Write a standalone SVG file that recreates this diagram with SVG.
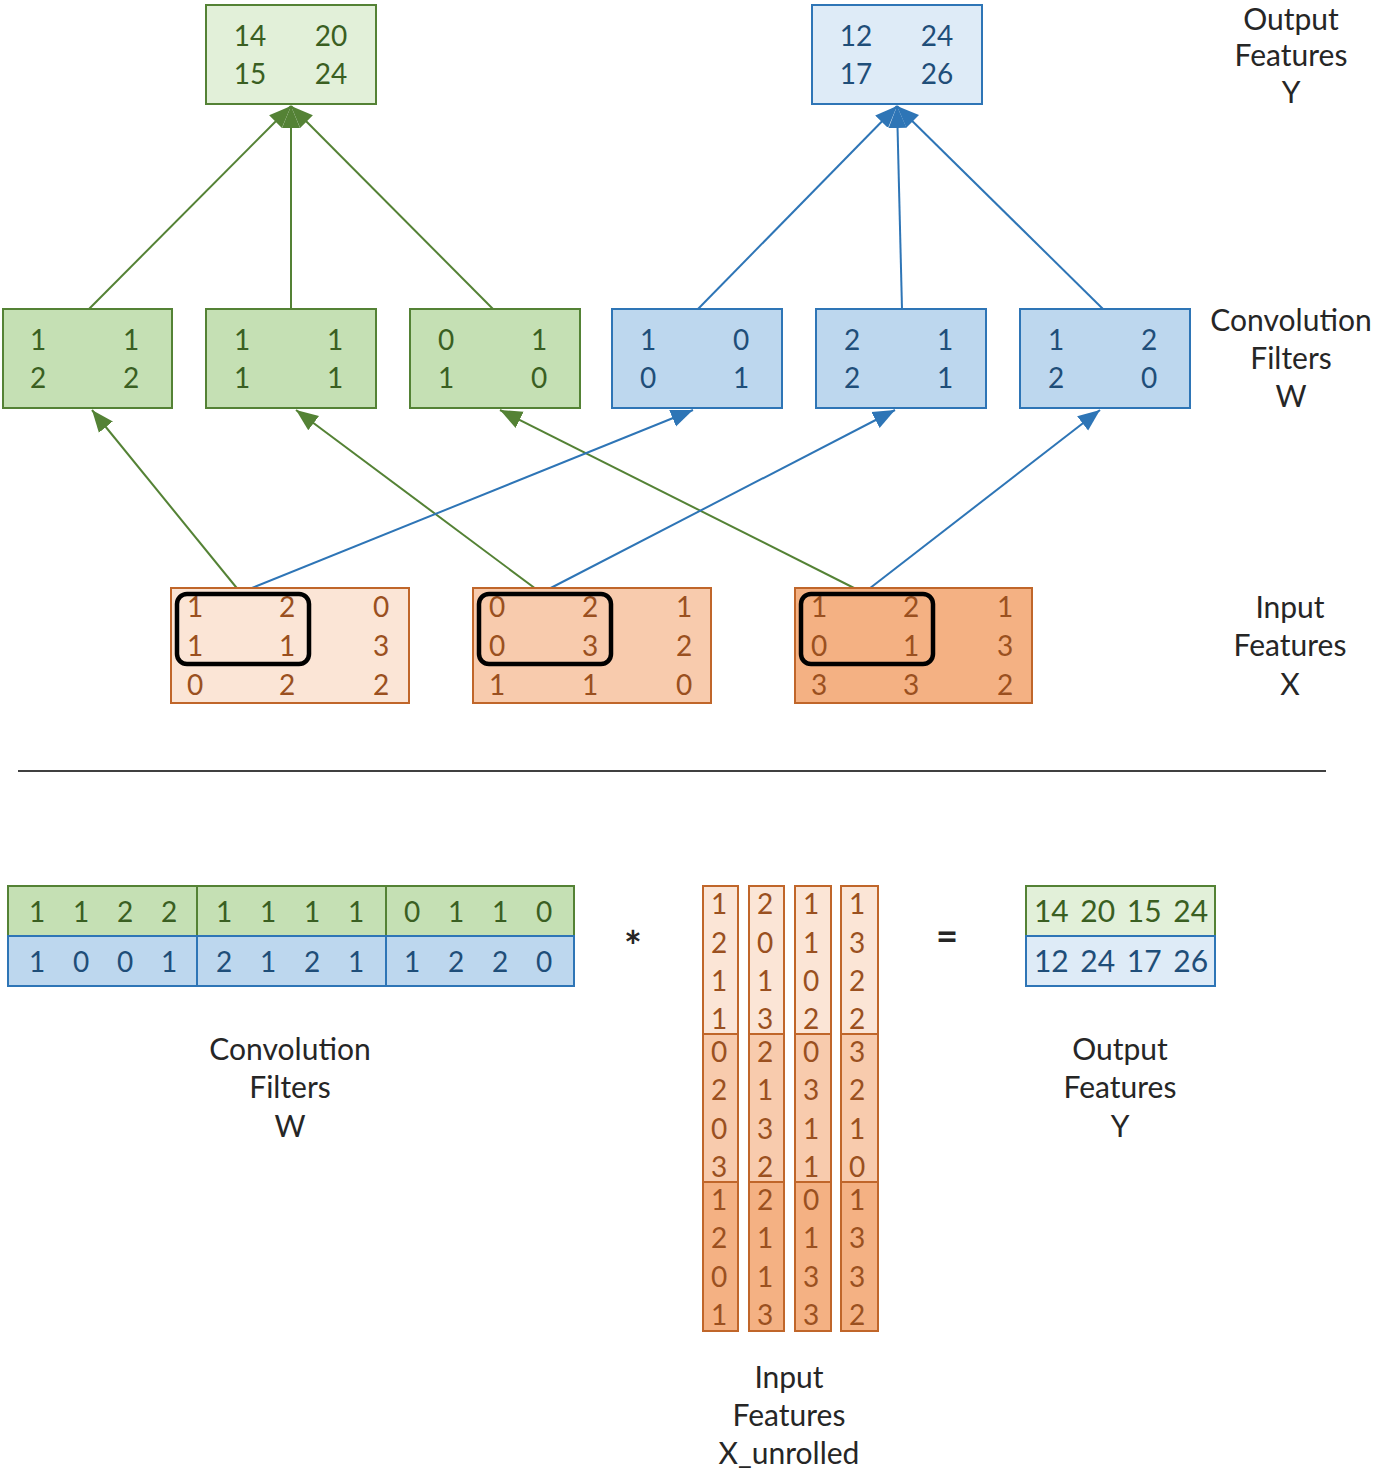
<svg xmlns="http://www.w3.org/2000/svg" width="1376" height="1474" viewBox="0 0 1376 1474">
<style>
text{font-family:Lato,"Open Sans","Liberation Sans",sans-serif;font-size:28px;text-anchor:middle}
.lbl{fill:#262626;font-size:30px}
.gt{fill:#3A5F22}
.bt{fill:#1F4E79}
.ot{fill:#9A5020}
.g1{fill:#C5E0B4;stroke:#548235;stroke-width:2}
.g0{fill:#E2F0D9;stroke:#548235;stroke-width:2}
.b1{fill:#BDD7EE;stroke:#2E75B6;stroke-width:2}
.b0{fill:#DEEBF7;stroke:#2E75B6;stroke-width:2}
.o1{fill:#FBE5D6;stroke:#C0662A;stroke-width:2}
.o2{fill:#F8CBAD;stroke:#C0662A;stroke-width:2}
.o3{fill:#F4B183;stroke:#C0662A;stroke-width:2}
.win{fill:none;stroke:#000;stroke-width:4.5}
.gl{stroke:#548235;stroke-width:2;fill:none;marker-end:url(#ag)}
.bl{stroke:#2E75B6;stroke-width:2;fill:none;marker-end:url(#ab)}
.op{fill:#262626;font-weight:bold}
.yv{font-size:30px;word-spacing:4px}
</style>
<defs>
<marker id="ag" markerUnits="userSpaceOnUse" markerWidth="24" markerHeight="20" viewBox="0 0 24 20" refX="22" refY="10" orient="auto"><path d="M0,1 L22,10 L0,19 Z" fill="#548235"/></marker>
<marker id="ab" markerUnits="userSpaceOnUse" markerWidth="24" markerHeight="20" viewBox="0 0 24 20" refX="22" refY="10" orient="auto"><path d="M0,1 L22,10 L0,19 Z" fill="#2E75B6"/></marker>
</defs>
<rect width="1376" height="1474" fill="#fff"/>

<g id="connectors">
<line class="gl" x1="89" y1="309" x2="291" y2="106"/>
<line class="gl" x1="291" y1="309" x2="291" y2="106"/>
<line class="gl" x1="493" y1="309" x2="291" y2="106"/>
<line class="bl" x1="698" y1="309" x2="897" y2="106"/>
<line class="bl" x1="902" y1="309" x2="897" y2="106"/>
<line class="bl" x1="1103" y1="309" x2="897" y2="106"/>
<line class="gl" x1="240" y1="592" x2="92" y2="410"/>
<line class="gl" x1="540" y1="592" x2="296" y2="410"/>
<line class="gl" x1="862" y1="592" x2="500" y2="410"/>
<line class="bl" x1="242" y1="592" x2="693" y2="410"/>
<line class="bl" x1="543" y1="592" x2="895" y2="410"/>
<line class="bl" x1="865" y1="592" x2="1100" y2="410"/>
</g>

<g id="out-green">
<rect class="g0" x="206" y="5" width="170" height="99"/>
<text class="gt" x="250" y="46">14</text><text class="gt" x="331" y="46">20</text>
<text class="gt" x="250" y="84">15</text><text class="gt" x="331" y="84">24</text>
</g>
<g id="out-blue">
<rect class="b0" x="812" y="5" width="170" height="99"/>
<text class="bt" x="856" y="46">12</text><text class="bt" x="937" y="46">24</text>
<text class="bt" x="856" y="84">17</text><text class="bt" x="937" y="84">26</text>
</g>

<g id="filter-g1">
<rect class="g1" x="3" y="309" width="169" height="99"/>
<text class="gt" x="38" y="350">1</text><text class="gt" x="131" y="350">1</text>
<text class="gt" x="38" y="388">2</text><text class="gt" x="131" y="388">2</text>
</g>
<g id="filter-g2">
<rect class="g1" x="206" y="309" width="170" height="99"/>
<text class="gt" x="242" y="350">1</text><text class="gt" x="335" y="350">1</text>
<text class="gt" x="242" y="388">1</text><text class="gt" x="335" y="388">1</text>
</g>
<g id="filter-g3">
<rect class="g1" x="410" y="309" width="170" height="99"/>
<text class="gt" x="446" y="350">0</text><text class="gt" x="539" y="350">1</text>
<text class="gt" x="446" y="388">1</text><text class="gt" x="539" y="388">0</text>
</g>
<g id="filter-b1">
<rect class="b1" x="612" y="309" width="170" height="99"/>
<text class="bt" x="648" y="350">1</text><text class="bt" x="741" y="350">0</text>
<text class="bt" x="648" y="388">0</text><text class="bt" x="741" y="388">1</text>
</g>
<g id="filter-b2">
<rect class="b1" x="816" y="309" width="170" height="99"/>
<text class="bt" x="852" y="350">2</text><text class="bt" x="945" y="350">1</text>
<text class="bt" x="852" y="388">2</text><text class="bt" x="945" y="388">1</text>
</g>
<g id="filter-b3">
<rect class="b1" x="1020" y="309" width="170" height="99"/>
<text class="bt" x="1056" y="350">1</text><text class="bt" x="1149" y="350">2</text>
<text class="bt" x="1056" y="388">2</text><text class="bt" x="1149" y="388">0</text>
</g>

<g id="input-1">
<rect class="o1" x="171" y="588" width="238" height="115"/>
<text class="ot" x="195" y="617">1</text><text class="ot" x="287" y="617">2</text><text class="ot" x="381" y="617">0</text>
<text class="ot" x="195" y="656">1</text><text class="ot" x="287" y="656">1</text><text class="ot" x="381" y="656">3</text>
<text class="ot" x="195" y="695">0</text><text class="ot" x="287" y="695">2</text><text class="ot" x="381" y="695">2</text>
<rect class="win" x="177" y="594" width="132" height="70" rx="10"/>
</g>
<g id="input-2">
<rect class="o2" x="473" y="588" width="238" height="115"/>
<text class="ot" x="497" y="617">0</text><text class="ot" x="590" y="617">2</text><text class="ot" x="684" y="617">1</text>
<text class="ot" x="497" y="656">0</text><text class="ot" x="590" y="656">3</text><text class="ot" x="684" y="656">2</text>
<text class="ot" x="497" y="695">1</text><text class="ot" x="590" y="695">1</text><text class="ot" x="684" y="695">0</text>
<rect class="win" x="479" y="594" width="132" height="70" rx="10"/>
</g>
<g id="input-3">
<rect class="o3" x="795" y="588" width="237" height="115"/>
<text class="ot" x="819" y="617">1</text><text class="ot" x="911" y="617">2</text><text class="ot" x="1005" y="617">1</text>
<text class="ot" x="819" y="656">0</text><text class="ot" x="911" y="656">1</text><text class="ot" x="1005" y="656">3</text>
<text class="ot" x="819" y="695">3</text><text class="ot" x="911" y="695">3</text><text class="ot" x="1005" y="695">2</text>
<rect class="win" x="801" y="594" width="132" height="70" rx="10"/>
</g>

<g id="labels-top">
<text class="lbl" x="1291" y="30">Output</text>
<text class="lbl" x="1291" y="66">Features</text>
<text class="lbl" x="1291" y="103">Y</text>
<text class="lbl" x="1291" y="331">Convolution</text>
<text class="lbl" x="1291" y="369">Filters</text>
<text class="lbl" x="1291" y="407">W</text>
<text class="lbl" x="1290" y="618">Input</text>
<text class="lbl" x="1290" y="656">Features</text>
<text class="lbl" x="1290" y="695">X</text>
</g>

<line id="separator" x1="18" y1="771" x2="1326" y2="771" stroke="#404040" stroke-width="2"/>

<g id="w-matrix">
<rect class="g1" x="8" y="886" width="189" height="50"/><rect class="g1" x="197" y="886" width="189" height="50"/><rect class="g1" x="386" y="886" width="188" height="50"/>
<rect class="b1" x="8" y="936" width="189" height="50"/><rect class="b1" x="197" y="936" width="189" height="50"/><rect class="b1" x="386" y="936" width="188" height="50"/>
<text class="gt" x="37" y="922">1</text><text class="gt" x="81" y="922">1</text><text class="gt" x="125" y="922">2</text><text class="gt" x="169" y="922">2</text>
<text class="gt" x="224" y="922">1</text><text class="gt" x="268" y="922">1</text><text class="gt" x="312" y="922">1</text><text class="gt" x="356" y="922">1</text>
<text class="gt" x="412" y="922">0</text><text class="gt" x="456" y="922">1</text><text class="gt" x="500" y="922">1</text><text class="gt" x="544" y="922">0</text>
<text class="bt" x="37" y="972">1</text><text class="bt" x="81" y="972">0</text><text class="bt" x="125" y="972">0</text><text class="bt" x="169" y="972">1</text>
<text class="bt" x="224" y="972">2</text><text class="bt" x="268" y="972">1</text><text class="bt" x="312" y="972">2</text><text class="bt" x="356" y="972">1</text>
<text class="bt" x="412" y="972">1</text><text class="bt" x="456" y="972">2</text><text class="bt" x="500" y="972">2</text><text class="bt" x="544" y="972">0</text>
</g>

<text class="op" x="633" y="962" style="font-size:42px">*</text>
<text class="op" x="947" y="950" style="font-size:38px">=</text>

<g id="x-unrolled">
<rect class="o1" x="703" y="886" width="35" height="148"/><rect class="o1" x="749" y="886" width="35" height="148"/><rect class="o1" x="795" y="886" width="36" height="148"/><rect class="o1" x="841" y="886" width="37" height="148"/>
<rect class="o2" x="703" y="1034" width="35" height="148"/><rect class="o2" x="749" y="1034" width="35" height="148"/><rect class="o2" x="795" y="1034" width="36" height="148"/><rect class="o2" x="841" y="1034" width="37" height="148"/>
<rect class="o3" x="703" y="1182" width="35" height="149"/><rect class="o3" x="749" y="1182" width="35" height="149"/><rect class="o3" x="795" y="1182" width="36" height="149"/><rect class="o3" x="841" y="1182" width="37" height="149"/>
<text class="ot" x="719" y="914">1</text><text class="ot" x="719" y="953">2</text><text class="ot" x="719" y="991">1</text><text class="ot" x="719" y="1029">1</text>
<text class="ot" x="719" y="1062">0</text><text class="ot" x="719" y="1100">2</text><text class="ot" x="719" y="1139">0</text><text class="ot" x="719" y="1177">3</text>
<text class="ot" x="719" y="1210">1</text><text class="ot" x="719" y="1248">2</text><text class="ot" x="719" y="1287">0</text><text class="ot" x="719" y="1325">1</text>
<text class="ot" x="765" y="914">2</text><text class="ot" x="765" y="953">0</text><text class="ot" x="765" y="991">1</text><text class="ot" x="765" y="1029">3</text>
<text class="ot" x="765" y="1062">2</text><text class="ot" x="765" y="1100">1</text><text class="ot" x="765" y="1139">3</text><text class="ot" x="765" y="1177">2</text>
<text class="ot" x="765" y="1210">2</text><text class="ot" x="765" y="1248">1</text><text class="ot" x="765" y="1287">1</text><text class="ot" x="765" y="1325">3</text>
<text class="ot" x="811" y="914">1</text><text class="ot" x="811" y="953">1</text><text class="ot" x="811" y="991">0</text><text class="ot" x="811" y="1029">2</text>
<text class="ot" x="811" y="1062">0</text><text class="ot" x="811" y="1100">3</text><text class="ot" x="811" y="1139">1</text><text class="ot" x="811" y="1177">1</text>
<text class="ot" x="811" y="1210">0</text><text class="ot" x="811" y="1248">1</text><text class="ot" x="811" y="1287">3</text><text class="ot" x="811" y="1325">3</text>
<text class="ot" x="857" y="914">1</text><text class="ot" x="857" y="953">3</text><text class="ot" x="857" y="991">2</text><text class="ot" x="857" y="1029">2</text>
<text class="ot" x="857" y="1062">3</text><text class="ot" x="857" y="1100">2</text><text class="ot" x="857" y="1139">1</text><text class="ot" x="857" y="1177">0</text>
<text class="ot" x="857" y="1210">1</text><text class="ot" x="857" y="1248">3</text><text class="ot" x="857" y="1287">3</text><text class="ot" x="857" y="1325">2</text>
</g>

<g id="y-matrix">
<rect class="g0" x="1026" y="886" width="189" height="50"/>
<rect class="b0" x="1026" y="936" width="189" height="50"/>
<text class="gt yv" x="1121" y="922">14 20 15 24</text>
<text class="bt yv" x="1121" y="972">12 24 17 26</text>
</g>

<g id="labels-bottom">
<text class="lbl" x="290" y="1060">Convolution</text>
<text class="lbl" x="290" y="1098">Filters</text>
<text class="lbl" x="290" y="1137">W</text>
<text class="lbl" x="1120" y="1060">Output</text>
<text class="lbl" x="1120" y="1098">Features</text>
<text class="lbl" x="1120" y="1137">Y</text>
<text class="lbl" x="789" y="1388">Input</text>
<text class="lbl" x="789" y="1426">Features</text>
<text class="lbl" x="789" y="1464">X_unrolled</text>
</g>
</svg>
